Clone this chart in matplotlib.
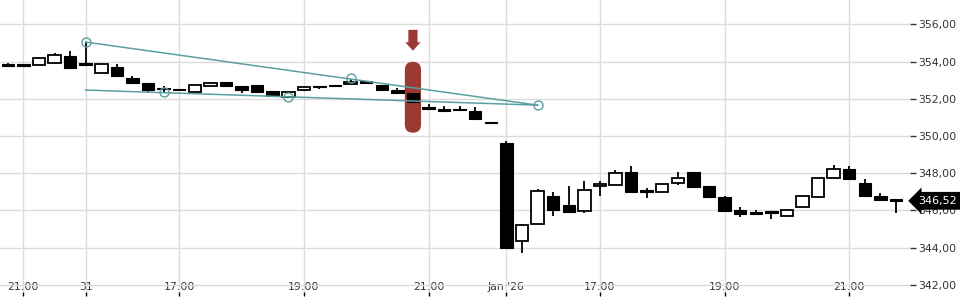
import matplotlib
matplotlib.use("Agg")
import matplotlib.pyplot as plt
from matplotlib.patches import FancyBboxPatch
from matplotlib.ticker import FuncFormatter
import matplotlib.transforms as mtransforms
import numpy as np

# 15-min candles, index 0 = "31"
idx = np.arange(-5, 53)
opens = [353.80, 353.79, 353.83, 353.90, 354.31, 353.94, 353.38, 353.72, 353.12, 352.86,
         352.55, 352.46, 352.36, 352.69, 352.92, 352.70, 352.76, 352.43, 352.10, 352.50,
         352.70, 352.76, 352.79, 352.97, 352.76, 352.50, 352.33, 351.58, 351.47, 351.41,
         351.36, 350.71, 349.63, 344.38, 345.26, 346.80, 346.27, 345.96, 347.32, 347.38,
         348.09, 347.05, 346.98, 347.46, 348.09, 347.29, 346.70, 346.00, 345.93, 345.89,
         345.73, 346.20, 346.73, 347.75, 348.24, 347.49, 346.79, 346.63]
highs = [353.90, 353.88, 354.19, 354.45, 354.58, 355.05, 353.94, 353.88, 353.20, 352.86,
         352.67, 352.46, 352.74, 352.92, 352.92, 352.70, 352.76, 352.43, 352.43, 352.63,
         352.70, 352.76, 353.08, 352.97, 352.76, 352.58, 352.33, 351.74, 351.60, 351.60,
         351.57, 350.71, 349.75, 345.30, 347.18, 347.00, 347.34, 347.61, 347.59, 348.15,
         348.38, 347.22, 347.45, 348.09, 348.09, 347.29, 346.80, 346.18, 346.00, 345.89,
         346.04, 346.80, 347.75, 348.47, 348.38, 347.70, 346.93, 346.63]
lows = [353.71, 353.72, 353.83, 353.90, 353.63, 353.81, 353.38, 353.25, 352.79, 352.38,
        352.38, 352.45, 352.36, 352.69, 352.69, 352.33, 352.38, 352.13, 352.10, 352.40,
        352.54, 352.69, 352.79, 352.83, 352.40, 352.29, 351.81, 351.45, 351.32, 351.40,
        350.92, 350.70, 343.98, 343.69, 345.26, 345.70, 345.91, 345.84, 346.77, 347.38,
        346.98, 346.66, 346.98, 347.36, 347.25, 346.66, 345.96, 345.66, 345.79, 345.52,
        345.73, 346.20, 346.73, 347.75, 347.68, 346.79, 346.52, 345.84]
closes = [353.78, 353.78, 354.19, 354.35, 353.63, 353.81, 353.88, 353.25, 352.85, 352.45,
          352.51, 352.45, 352.74, 352.86, 352.69, 352.49, 352.38, 352.13, 352.36, 352.63,
          352.61, 352.69, 352.92, 352.83, 352.45, 352.29, 351.81, 351.45, 351.32, 351.40,
          350.92, 350.70, 343.98, 345.20, 347.07, 346.02, 345.91, 347.11, 347.45, 348.02,
          346.98, 347.02, 347.45, 347.75, 347.25, 346.71, 345.96, 345.82, 345.79, 345.88,
          346.04, 346.80, 347.75, 348.22, 347.68, 346.79, 346.57, 346.52]

tick_pos = [-4, 0, 6, 14, 22, 27, 33, 41, 49]
tick_labels = ['21:00', '31', '17:00', '19:00', '21:00', "Jan '26", '17:00', '19:00', '21:00']

# triangle pattern (pivots)
upper_line = ([0, 29], [355.05, 351.66])
lower_line = ([0, 29], [352.47, 351.66])
pivot_idx = [0, 5, 13, 17, 29]
pivot_price = [355.05, 352.36, 352.11, 353.13, 351.66]

signal_idx = 21
signal_range = (350.18, 353.99)
last_price = 346.52

teal = '#5c9fa1'
red = '#9b3a34'
grid_c = '#dcdcdc'
txt_c = '#333333'

fig = plt.figure(figsize=(9.6, 3.0), dpi=100)
ax = fig.add_axes([0, 8 / 300, 910 / 960, 292 / 300])
ax.set_xlim(-5.5, 52.9)
ax.set_ylim(341.62, 357.31)

# highlight pill + arrow
pill = FancyBboxPatch((signal_idx - 0.52, signal_range[0]), 1.04, signal_range[1] - signal_range[0],
                      boxstyle='round,pad=0,rounding_size=0.52', mutation_aspect=0.83,
                      facecolor=red, edgecolor='none', zorder=2)
ax.add_patch(pill)
ax.annotate('', xy=(signal_idx, signal_range[1]), xycoords='data',
            xytext=(0, 23), textcoords='offset points',
            arrowprops=dict(arrowstyle='simple,head_length=0.55,head_width=1.0,tail_width=0.6',
                            mutation_scale=11, facecolor=red, edgecolor='none',
                            shrinkA=0, shrinkB=8))

# candles
opens = np.array(opens); closes = np.array(closes)
highs = np.array(highs); lows = np.array(lows)
up = closes > opens
ax.vlines(idx, lows, highs, color='black', linewidth=1.3, zorder=3)
body_bot = np.minimum(opens, closes)
body_h = np.maximum(np.abs(closes - opens), 0.07)
ax.bar(idx[up], body_h[up], bottom=body_bot[up], width=0.8, color='white',
       edgecolor='black', linewidth=1.3, zorder=4)
ax.bar(idx[~up], body_h[~up], bottom=body_bot[~up], width=0.8, color='black',
       edgecolor='black', linewidth=0.8, zorder=4)

# trend lines
ax.plot(upper_line[0], upper_line[1], color=teal, linewidth=1.1, zorder=5)
ax.plot(lower_line[0], lower_line[1], color=teal, linewidth=1.1, zorder=5)
ax.plot(pivot_idx, pivot_price, linestyle='none', marker='o', markersize=6.5,
        markerfacecolor='none', markeredgecolor=teal, markeredgewidth=1.0, zorder=6)

# axes styling
for s in ax.spines.values():
    s.set_visible(False)
ax.set_yticks(np.arange(342, 357, 2))
ax.yaxis.set_major_formatter(FuncFormatter(lambda v, p: f'{v:.2f}'.replace('.', ',')))
ax.yaxis.tick_right()
ax.tick_params(axis='y', direction='out', length=4, width=1, color=txt_c,
               labelsize=7.8, labelcolor=txt_c, pad=2)
ax.set_xticks(tick_pos)
ax.set_xticklabels(tick_labels)
ax.tick_params(axis='x', direction='out', length=3, width=1, color='black',
               labelsize=7.8, labelcolor=txt_c, pad=-10)
ax.grid(True, color=grid_c, linewidth=1)
ax.set_axisbelow(True)

# last price tag
trans = mtransforms.blended_transform_factory(ax.transAxes, ax.transData)
ax.text(1.009, last_price, f'{last_price:.2f}'.replace('.', ','), transform=trans,
        color='white', fontsize=8, va='center', ha='left', zorder=10, clip_on=False,
        bbox=dict(boxstyle='larrow,pad=0.35', facecolor='black', edgecolor='none'))

fig.savefig('out.png', dpi=100)
